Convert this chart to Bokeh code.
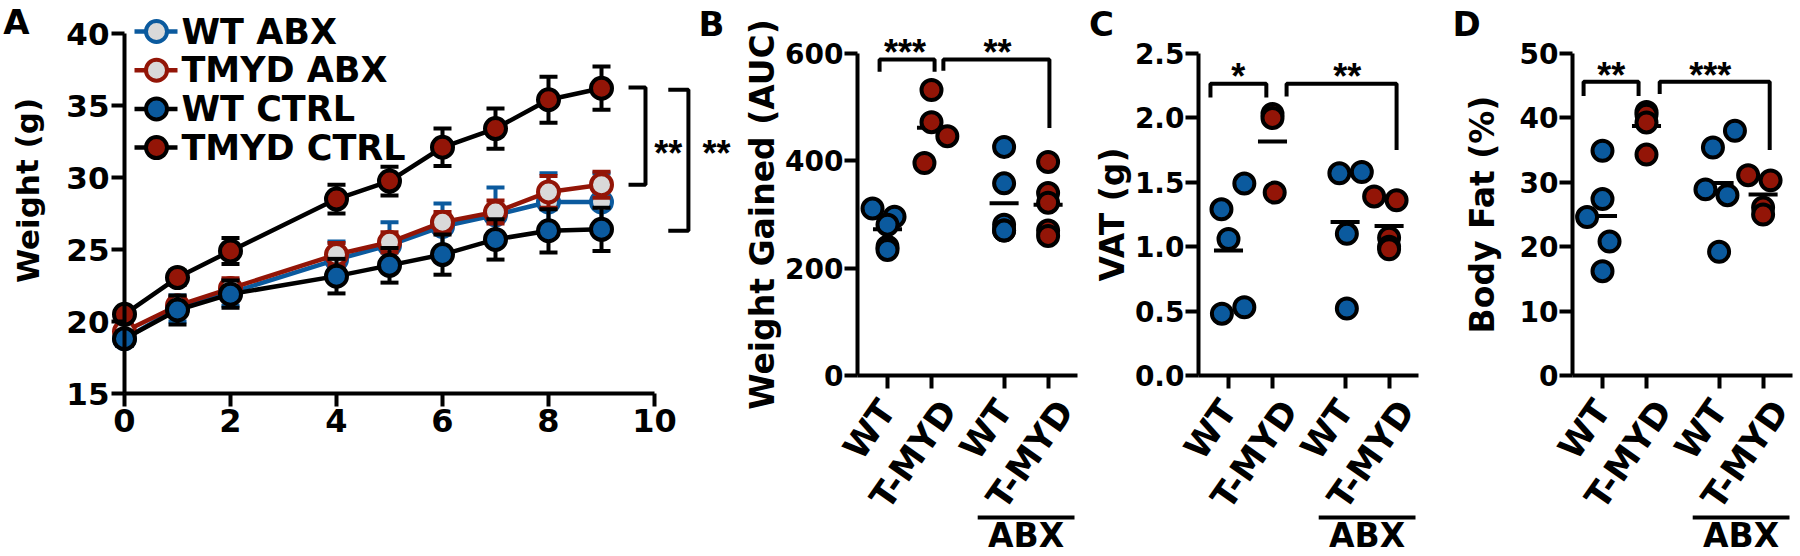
from bokeh.plotting import figure
from bokeh.models import Range1d, FixedTicker, Label, NumeralTickFormatter
from bokeh.layouts import row
from bokeh.embed import file_html
from bokeh.resources import INLINE
from bokeh.core.properties import value

FONT = "DejaVu Sans"
STAR_FONT = "Liberation Sans"
BLUE = "#0b5a9e"
RED = "#931507"
GREY = "#d9d9d9"
BLACK = "#000000"

# ---------------- Panel A data ----------------
weeks = [0, 1, 2, 4, 5, 6, 7, 8, 9]
wt_abx = [18.8, 20.9, 22.0, 24.3, 25.3, 26.6, 27.4, 28.3, 28.3]
wt_abx_sem = [0.5, 0.9, 0.9, 1.25, 1.6, 1.6, 1.9, 2.0, 2.0]
tmyd_abx = [19.3, 21.1, 22.3, 24.65, 25.5, 26.9, 27.6, 29.0, 29.5]
tmyd_abx_sem = [0.5, 0.6, 0.7, 0.8, 0.7, 0.7, 0.8, 1.1, 0.9]
wt_ctrl = [18.8, 20.8, 21.9, 23.15, 23.9, 24.65, 25.7, 26.3, 26.4]
wt_ctrl_sem = [0.5, 1.0, 0.95, 1.2, 1.2, 1.4, 1.4, 1.5, 1.5]
tmyd_ctrl = [20.5, 23.05, 24.9, 28.5, 29.75, 32.1, 33.4, 35.4, 36.2]
tmyd_ctrl_sem = [0.4, 0.5, 0.9, 1.0, 1.0, 1.3, 1.4, 1.6, 1.5]
legend_labels = ["WT ABX", "TMYD ABX", "WT CTRL", "TMYD CTRL"]
a_xticks = [0, 2, 4, 6, 8, 10]
a_yticks = [15, 20, 25, 30, 35, 40]
# significance brackets of panel A: (x_arm, x_vertical, y_top, y_bottom)
a_brackets = [(9.51, 9.83, 36.25, 29.5), (10.26, 10.64, 36.1, 26.3)]
a_stars = ["**", "**"]
a_star_x = [10.26, 11.17]
a_star_y = [32.25, 32.25]

# ---------------- Panels B-D data ----------------
groups = ["WT", "T-MYD", "WT", "T-MYD"]
group_x = [1, 2, 3.65, 4.65]
group_colors = [BLUE, RED, BLUE, RED]

b_wt = [311, 296, 281, 240, 234]
b_tmyd = [532, 472, 446, 396]
b_abx_wt = [426, 358, 281, 270, 270]
b_abx_tmyd = [398, 340, 322, 270, 260]
b_jit = [[-0.34, 0.16, 0.0, 0.0, 0.0], [0.0, 0.0, 0.36, -0.16], [0, 0, 0, 0, 0], [0, 0, 0, 0, 0]]
b_yticks = [0, 200, 400, 600]

c_wt = [1.29, 1.06, 1.49, 0.48, 0.53]
c_tmyd = [2.03, 2.00, 1.42]
c_abx_wt = [1.57, 1.58, 1.10, 0.52]
c_abx_tmyd = [1.39, 1.36, 1.07, 1.00, 0.98]
c_jit = [[-0.16, 0.0, 0.36, -0.15, 0.36], [0, 0, 0.05], [-0.13, 0.38, 0.04, 0.04], [-0.34, 0.17, 0, 0, 0]]
c_yticks = [0.0, 0.5, 1.0, 1.5, 2.0, 2.5]

d_wt = [24.6, 34.9, 27.4, 20.8, 16.2]
d_tmyd = [40.9, 40.5, 39.3, 34.3]
d_abx_wt = [35.4, 38.0, 28.9, 28.0, 19.2]
d_abx_tmyd = [31.1, 30.3, 26.1, 25.0]
d_jit = [[-0.35, 0.0, 0.0, 0.16, 0.0], [0, 0, 0, 0], [-0.14, 0.36, -0.31, 0.19, 0.0], [-0.34, 0.17, 0, 0]]
d_yticks = [0, 10, 20, 30, 40, 50]

# brackets: (x_left, x_right, y_top, y_leg_left, y_leg_right)
b_brackets = [(0.82, 2.07, 589, 566, 566), (2.27, 4.68, 589, 568, 461)]
c_brackets = [(0.59, 1.86, 2.265, 2.158, 2.158), (2.32, 4.82, 2.265, 2.166, 1.75)]
d_brackets = [(0.57, 1.82, 45.6, 43.4, 43.4), (2.30, 4.80, 45.6, 43.7, 35.0)]
b_stars = (["***", "**"], [1.4, 3.5], [617, 617])
c_stars = (["*", "**"], [1.22, 3.7], [2.385, 2.385])
d_stars = (["**", "***"], [1.2, 3.45], [47.9, 47.9])
abx_label = "ABX"
abx_span = (3.05, 5.25)

H = 556
CAT_ANGLE = 0.96            # rotation of category labels (rad)
CAT_DX = -18                # px, label centre relative to its tick
CAT_DY = [54, 79, 54, 79]   # px below the axis, label centre


def style_axis(ax, size):
    ax.axis_line_width = 4
    ax.axis_line_color = BLACK
    ax.major_tick_line_width = 4
    ax.major_tick_line_color = BLACK
    ax.major_tick_out = 13
    ax.major_tick_in = 0
    ax.minor_tick_out = 0
    ax.minor_tick_in = 0
    ax.major_label_text_font = FONT
    ax.major_label_text_font_style = "bold"
    ax.major_label_text_font_size = size
    ax.major_label_text_color = BLACK
    ax.axis_label_text_font = FONT
    ax.axis_label_text_font_style = "bold"
    ax.axis_label_text_font_size = "33px"
    ax.axis_label_text_color = BLACK


def make_fig(width, xr, yr):
    p = figure(width=width, height=H, title=None, x_range=Range1d(*xr), y_range=Range1d(*yr),
               output_backend="svg", toolbar_location=None,
               min_border_left=0, min_border_right=0, min_border_top=0, min_border_bottom=0)
    p.xgrid.visible = False
    p.ygrid.visible = False
    p.outline_line_color = None
    p.background_fill_color = "white"
    p.border_fill_color = "white"
    return p


def letter(p, txt, x, y):
    p.add_layout(Label(x=x, y=y, text=txt, text_font=FONT, text_font_style="bold",
                       text_font_size="34px", text_align="center", text_baseline="top",
                       text_color=BLACK))


# ---------------- Panel A ----------------
A_PX = 53.0   # px per week
A_PY = 14.4   # px per gram


def a_x(px):
    return (px - 124) / A_PX


def a_y(py):
    return 40 - (py - 33) / A_PY


pA = make_fig(742, (a_x(0), a_x(742)), (a_y(H), a_y(0)))
ya = pA.yaxis[0]
style_axis(ya, "31px")
ya.fixed_location = 0
ya.bounds = (15, 40)
ya.ticker = FixedTicker(ticks=a_yticks)
ya.major_label_standoff = 2
xa = pA.xaxis[0]
style_axis(xa, "32px")
xa.fixed_location = 15
xa.bounds = (0, 10)
xa.ticker = FixedTicker(ticks=a_xticks)
xa.major_label_standoff = 2
# y-axis title
pA.text(x=[a_x(27)], y=[a_y(190)], text=["Weight (g)"], angle=1.5708,
        text_font=value(FONT), text_font_style="bold", text_font_size="31px",
        text_align="center", text_baseline="middle", text_color=BLACK)

a_series = [
    (wt_abx, wt_abx_sem, BLUE, GREY, BLUE),
    (tmyd_abx, tmyd_abx_sem, RED, GREY, RED),
    (wt_ctrl, wt_ctrl_sem, BLACK, BLUE, BLACK),
    (tmyd_ctrl, tmyd_ctrl_sem, BLACK, RED, BLACK),
]
for mean, sem, lc, fc, ec in a_series:
    hi = [m + s for m, s in zip(mean, sem)]
    lo = [m - s for m, s in zip(mean, sem)]
    pA.segment(x0=weeks, y0=lo, x1=weeks, y1=hi, line_color=lc, line_width=4)
    pA.scatter(x=weeks, y=hi, marker="dash", size=18, line_color=lc, line_width=4)
    pA.scatter(x=weeks, y=lo, marker="dash", size=18, line_color=lc, line_width=4)
    pA.line(x=weeks, y=mean, line_color=lc, line_width=4.5)
    pA.scatter(x=weeks, y=mean, size=21, fill_color=fc, line_color=ec, line_width=4)

# legend (drawn with glyphs)
for i, (lab, (mean, sem, lc, fc, ec)) in enumerate(zip(legend_labels, a_series)):
    yy = a_y(31 + 38.7 * i)
    pA.segment(x0=[a_x(134)], y0=[yy], x1=[a_x(177)], y1=[yy], line_color=lc, line_width=4.5)
    pA.scatter(x=[a_x(156)], y=[yy], size=21, fill_color=fc, line_color=ec, line_width=4)
    pA.text(x=[a_x(181)], y=[yy], text=[lab], text_font=value(FONT), text_font_style="bold",
            text_font_size="35px", text_align="left", text_baseline="middle", text_color=BLACK)

for xarm, xv, yt, yb in a_brackets:
    pA.line(x=[xarm, xv, xv, xarm], y=[yt, yt, yb, yb], line_color=BLACK, line_width=4)
pA.text(x=a_star_x, y=a_star_y, text=a_stars, text_font=value(STAR_FONT), text_font_style="bold",
        text_font_size="36px", text_align="center", text_baseline="middle", y_offset=8, text_color=BLACK)

letter(pA, "A", a_x(16), a_y(1))
letter(pA, "B", a_x(711), a_y(3))


# ---------------- Panels B-D ----------------
def dot_panel(width, left_ref, yaxis_ref, ymax, yticks, ylabel, lab_standoff, data, jits,
              brackets, stars, let, let_ref, fmt=None):
    scale = 322.0 / ymax                      # px per data unit

    def px_x(ref):
        return 1 + (ref - (yaxis_ref + 30)) / 44.0

    def px_y(ref):
        return (375 - ref) / scale

    x_axis_pos = px_x(yaxis_ref)
    p = make_fig(width, (px_x(left_ref), px_x(left_ref + width)), (px_y(H), px_y(0)))
    yax = p.yaxis[0]
    style_axis(yax, "28px")
    yax.fixed_location = x_axis_pos
    yax.bounds = (0, ymax)
    yax.ticker = FixedTicker(ticks=yticks)
    yax.axis_label = ylabel
    yax.axis_label_standoff = lab_standoff
    yax.major_label_standoff = 1
    if fmt is not None:
        yax.formatter = fmt
    xax = p.xaxis[0]
    style_axis(xax, "32px")
    xax.fixed_location = 0
    xax.bounds = (x_axis_pos, x_axis_pos + 5)
    xax.ticker = FixedTicker(ticks=group_x)
    xax.major_label_overrides = {gx: "" for gx in group_x}
    # category labels, rotated, placed under their ticks
    p.text(x=group_x, y=[0] * len(group_x), text=groups, angle=CAT_ANGLE,
           x_offset=CAT_DX, y_offset=CAT_DY,
           text_font=value(FONT), text_font_style="bold", text_font_size="35px",
           text_align="center", text_baseline="middle", text_color=BLACK)

    # mean lines
    for gx, vals in zip(group_x, data):
        m = sum(vals) / len(vals)
        p.segment(x0=[gx - 0.33], y0=[m], x1=[gx + 0.33], y1=[m], line_color=BLACK, line_width=4)
    # points
    for gx, vals, jit, col in zip(group_x, data, jits, group_colors):
        xs = [gx + j for j in jit]
        p.scatter(x=xs, y=vals, size=20, fill_color=col, line_color=BLACK, line_width=4)
    # brackets
    for xl, xr, yt, yl, yr in brackets:
        p.line(x=[xl, xl, xr, xr], y=[yl, yt, yt, yr], line_color=BLACK, line_width=4)
    txt, sx, sy = stars
    p.text(x=sx, y=sy, text=txt, text_font=value(STAR_FONT), text_font_style="bold",
           text_font_size="36px", text_align="center", text_baseline="middle", y_offset=8,
           text_color=BLACK)
    # ABX group bar and label
    p.segment(x0=[abx_span[0]], y0=[px_y(517)], x1=[abx_span[1]], y1=[px_y(517)],
              line_color=BLACK, line_width=4)
    p.text(x=[(abx_span[0] + abx_span[1]) / 2], y=[px_y(535)], text=[abx_label],
           text_font=value(FONT), text_font_style="bold", text_font_size="33px",
           text_align="center", text_baseline="middle", text_color=BLACK)
    if let is not None:
        letter(p, let, px_x(let_ref), px_y(3))
    return p


pB = dot_panel(346, 742, 857, 600, b_yticks, "Weight Gained (AUC)", 0,
               [b_wt, b_tmyd, b_abx_wt, b_abx_tmyd], b_jit, b_brackets, b_stars, None, 0)
pC = dot_panel(364, 1088, 1198, 2.5, c_yticks, "VAT (g)", 0,
               [c_wt, c_tmyd, c_abx_wt, c_abx_tmyd], c_jit, c_brackets, c_stars, "C", 1101,
               NumeralTickFormatter(format="0.0"))
pD = dot_panel(348, 1452, 1572, 50, d_yticks, "Body Fat (%)", 15,
               [d_wt, d_tmyd, d_abx_wt, d_abx_tmyd], d_jit, d_brackets, d_stars, "D", 1466)

layout = row(pA, pB, pC, pD)
open("out.html", "w").write(file_html(layout, INLINE))
